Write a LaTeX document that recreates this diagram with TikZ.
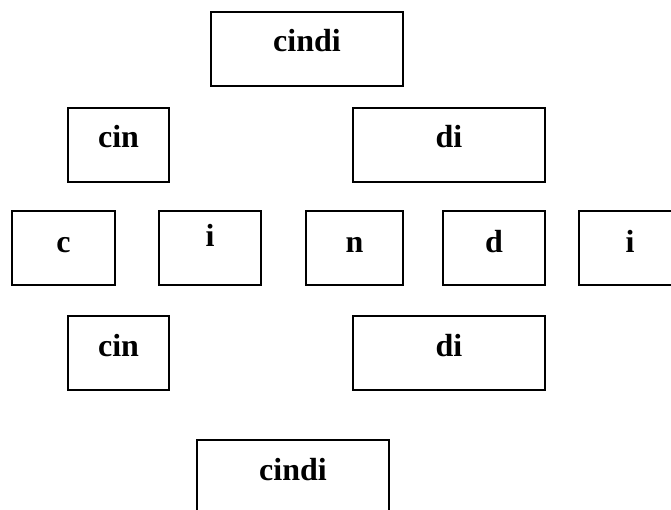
\documentclass[tikz,border=0pt]{standalone}
\usepackage{fontspec}
\setmainfont{Liberation Serif}
\tikzset{
  wbox/.style={draw, line width=2pt, inner sep=0pt, minimum height=74pt,
    font=\fontsize{32}{36}\selectfont\bfseries,
    text height=20pt, text depth=14pt, anchor=north west},
  rowthree/.style={text height=22pt, text depth=12pt}
}
\begin{document}
\begin{tikzpicture}[x=1pt,y=-1pt]
\useasboundingbox (0,0) rectangle (671,510);
\clip (0,0) rectangle (671,510);
\node[wbox, minimum width=192pt] (top) at (210,11) {cindi};
\node[wbox, minimum width=101pt] (cinA) at (67,107) {cin};
\node[wbox, minimum width=192pt] (diA) at (352,107) {di};
\node[wbox, rowthree, minimum width=103pt] (c) at (11,210) {c};
\node[wbox, minimum width=102pt, text height=16pt, text depth=18pt] (iA) at (158,210) {i};
\node[wbox, rowthree, minimum width=97pt] (n) at (305,210) {n};
\node[wbox, rowthree, minimum width=102pt] (d) at (442,210) {d};
\node[wbox, rowthree, minimum width=102pt] (iB) at (578,210) {i};
\node[wbox, minimum width=101pt] (cinB) at (67,315) {cin};
\node[wbox, minimum width=192pt] (diB) at (352,315) {di};
\node[wbox, minimum width=192pt] (bottom) at (196,439) {cindi};
\end{tikzpicture}
\end{document}
